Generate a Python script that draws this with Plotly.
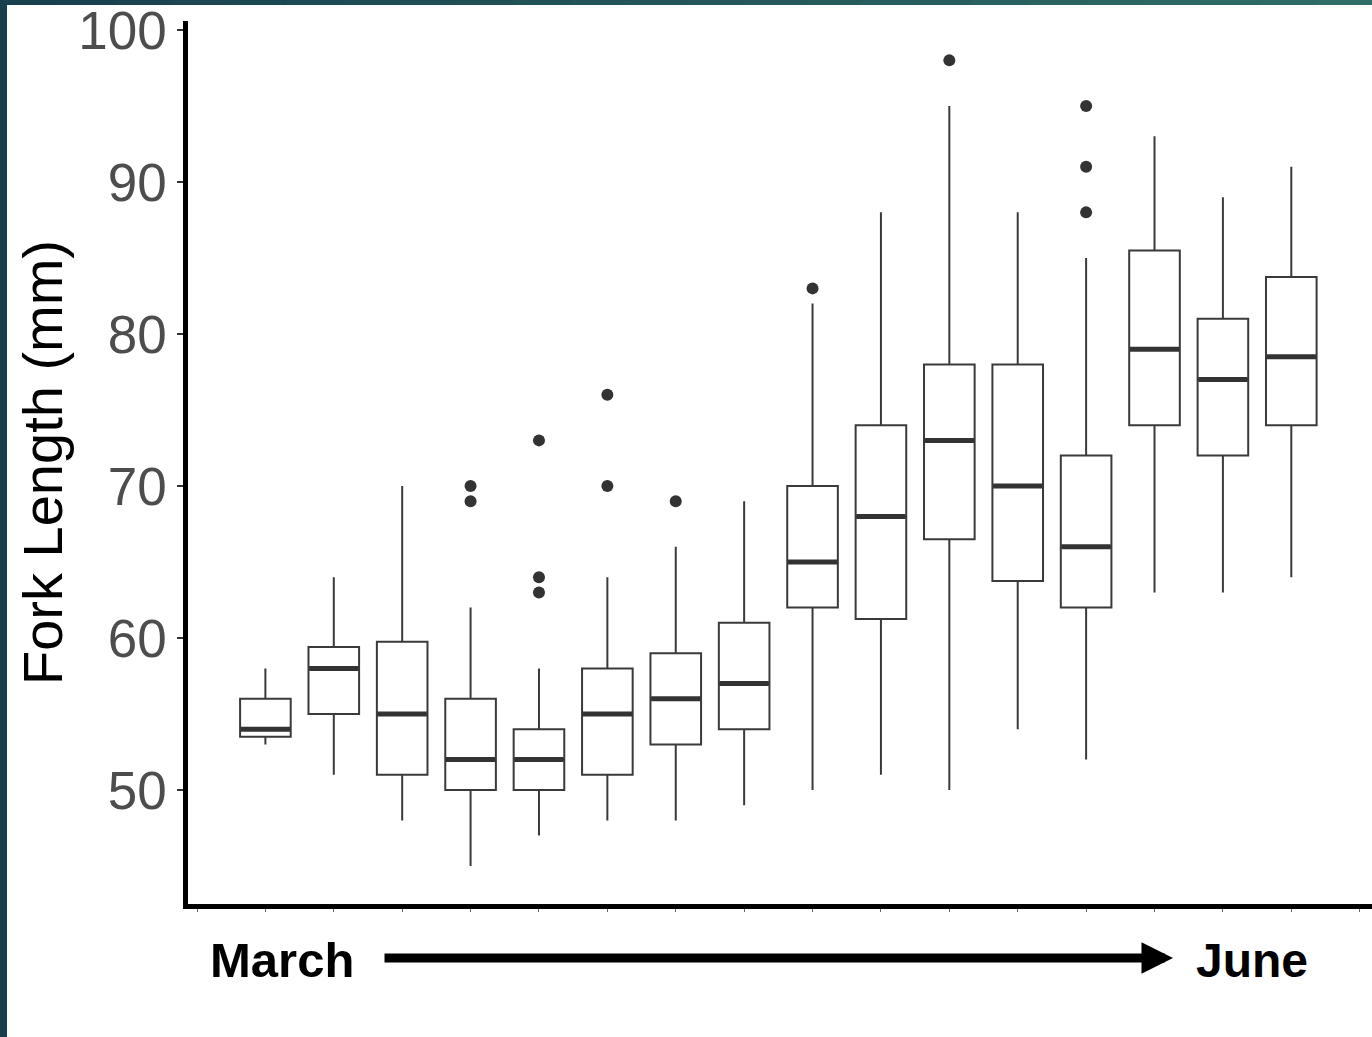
import plotly.graph_objects as go

# ---------------- data ----------------
groups = list(range(1, 17))          # sampling occasions, March -> June
q1 = [53.5, 55, 51, 50, 50, 51, 53, 54, 62, 61.25, 66.5, 63.75, 62, 74, 72, 74]
median = [54, 58, 55, 52, 52, 55, 56, 57, 65, 68, 73, 70, 66, 79, 77, 78.5]
q3 = [56, 59.4, 59.75, 56, 54, 58, 59, 61, 70, 74, 78, 78, 72, 85.5, 81, 83.75]
lower_whisker = [53, 51, 48, 45, 47, 48, 48, 49, 50, 51, 50, 54, 52, 63, 63, 64]
upper_whisker = [58, 64, 70, 62, 58, 64, 66, 69, 82, 88, 95, 88, 85, 93, 89, 91]
outlier_group = [4, 4, 5, 5, 5, 6, 6, 7, 9, 11, 13, 13, 13]
outlier_value = [70, 69, 73, 64, 63, 76, 70, 69, 83, 98, 95, 91, 88]
y_ticks = [50, 60, 70, 80, 90, 100]
y_title = "Fork Length (mm)"
start_label = "March"
end_label = "June"

# ---------------- geometry helpers ----------------
W, H = 1372, 1037
ML, MR, MT, MB = 188, 0, 21, 133
PW, PH = W - ML - MR, H - MT - MB
def px(xpix):
    return (xpix - ML) / PW
def py(ypix):
    return (H - MB - ypix) / PH

BOX_W = 0.74
DARK = "#333333"

fig = go.Figure()

fig.add_trace(go.Box(
    x=groups, q1=q1, median=median, q3=q3,
    lowerfence=lower_whisker, upperfence=upper_whisker,
    width=BOX_W, whiskerwidth=0, boxpoints=False,
    fillcolor="white", line=dict(color="#3a3a3a", width=2),
    hoverinfo="skip",
))

# thicker median bars (ggplot "fatten")
mx, my = [], []
for g, m in zip(groups, median):
    mx += [g - BOX_W / 2 + 0.01, g + BOX_W / 2 - 0.01, None]
    my += [m, m, None]
fig.add_trace(go.Scatter(x=mx, y=my, mode="lines",
                         line=dict(color=DARK, width=5), hoverinfo="skip"))

fig.add_trace(go.Scatter(x=outlier_group, y=outlier_value, mode="markers",
                         marker=dict(color=DARK, size=12), hoverinfo="skip"))

# ---------------- background border bands ----------------
shapes = []
c0 = (0x17, 0x3f, 0x4e)
c1 = (0x30, 0x6e, 0x66)
nseg = 24
for i in range(nseg):
    t = (i + 0.5) / nseg
    col = "rgb(%d,%d,%d)" % tuple(round(a + (b - a) * t) for a, b in zip(c0, c1))
    shapes.append(dict(type="rect", xref="paper", yref="paper",
                       x0=px(W * i / nseg), x1=px(W * (i + 1) / nseg + 1),
                       y0=py(5), y1=py(0), fillcolor=col, line=dict(width=0),
                       layer="above"))
shapes.append(dict(type="rect", xref="paper", yref="paper",
                   x0=px(0), x1=px(7), y0=py(H), y1=py(0),
                   fillcolor="#173f4e", line=dict(width=0), layer="above"))

annotations = [
    dict(text=y_title, xref="paper", yref="paper", x=px(42), y=py(463),
         textangle=-90, showarrow=False, xanchor="center", yanchor="middle",
         font=dict(family="Liberation Sans, Arial", size=56, color="black")),
    dict(text=start_label, xref="paper", yref="paper", x=px(282), y=py(960),
         showarrow=False, xanchor="center", yanchor="middle",
         font=dict(family="Liberation Sans, Arial", size=49, color="black", weight="bold")),
    dict(text=end_label, xref="paper", yref="paper", x=px(1252), y=py(960),
         showarrow=False, xanchor="center", yanchor="middle",
         font=dict(family="Liberation Sans, Arial", size=48, color="black", weight="bold")),
    dict(text="", xref="paper", yref="paper", x=px(1173), y=py(958),
         ax=-(1173 - 383), ay=0, showarrow=True, arrowhead=2,
         arrowsize=0.7, arrowwidth=9, arrowcolor="black"),
]

fig.update_layout(
    width=W, height=H, autosize=False,
    margin=dict(l=ML, r=MR, t=MT, b=MB, pad=0),
    paper_bgcolor="white", plot_bgcolor="white",
    showlegend=False,
    shapes=shapes, annotations=annotations,
    xaxis=dict(range=[-0.1316, 17.18], tickvals=list(range(0, 18)),
               showticklabels=False, ticks="outside", ticklen=3, tickwidth=1,
               tickcolor="#666666", showgrid=False, zeroline=False,
               showline=True, linecolor="black", linewidth=4.5),
    yaxis=dict(range=[42.5, 100.59], tickvals=y_ticks, ticks="outside",
               ticklen=6, tickwidth=1.5, tickcolor=DARK, showgrid=False,
               zeroline=False, showline=True, linecolor="black", linewidth=4.5,
               ticklabelstandoff=0,
               tickfont=dict(family="Liberation Sans, Arial", size=53, color="#4d4d4d")),
)

fig.write_html("out.html")
